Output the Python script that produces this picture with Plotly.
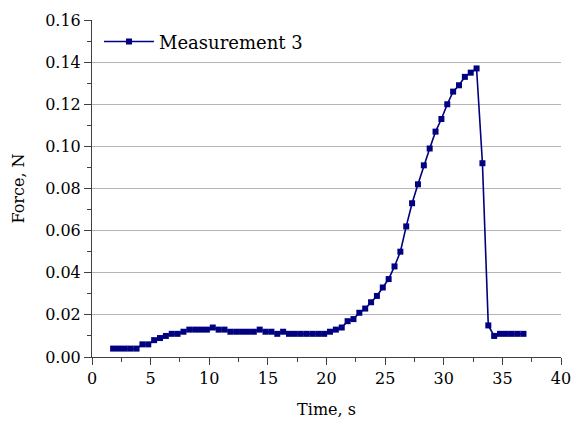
import plotly.graph_objects as go

time_s = [1.8, 2.3, 2.8, 3.3, 3.8, 4.3, 4.8, 5.3, 5.8, 6.3, 6.8, 7.3, 7.8, 8.3, 8.8, 9.3, 9.8,
          10.3, 10.8, 11.3, 11.8, 12.3, 12.8, 13.3, 13.8, 14.3, 14.8, 15.3, 15.8, 16.3, 16.8,
          17.3, 17.8, 18.3, 18.8, 19.3, 19.8, 20.3, 20.8, 21.3, 21.8, 22.3, 22.8, 23.3, 23.8,
          24.3, 24.8, 25.3, 25.8, 26.3, 26.8, 27.3, 27.8, 28.3, 28.8, 29.3, 29.8, 30.3, 30.8,
          31.3, 31.8, 32.3, 32.8, 33.3, 33.8, 34.3, 34.8, 35.3, 35.8, 36.3, 36.8]
force_n = [0.004, 0.004, 0.004, 0.004, 0.004, 0.006, 0.006, 0.008, 0.009, 0.010, 0.011, 0.011,
           0.012, 0.013, 0.013, 0.013, 0.013, 0.014, 0.013, 0.013, 0.012, 0.012, 0.012, 0.012,
           0.012, 0.013, 0.012, 0.012, 0.011, 0.012, 0.011, 0.011, 0.011, 0.011, 0.011, 0.011,
           0.011, 0.012, 0.013, 0.014, 0.017, 0.018, 0.021, 0.023, 0.026, 0.029, 0.033, 0.037,
           0.043, 0.050, 0.062, 0.073, 0.082, 0.091, 0.099, 0.107, 0.113, 0.120, 0.126, 0.129,
           0.133, 0.135, 0.137, 0.092, 0.015, 0.010, 0.011, 0.011, 0.011, 0.011, 0.011]

series_name = "Measurement 3"
x_title = "Time, s"
y_title = "Force, N"

FONT = "DejaVu Serif"
NAVY = "#000080"

fig = go.Figure()
fig.add_trace(go.Scatter(
    x=time_s, y=force_n, mode="lines+markers", name=series_name,
    line=dict(color=NAVY, width=1.6),
    marker=dict(symbol="square", size=6, color=NAVY),
))

fig.update_layout(
    width=574, height=421,
    margin=dict(l=92, r=13, t=20, b=64, autoexpand=False),
    paper_bgcolor="white", plot_bgcolor="white",
    font=dict(family=FONT, size=16, color="#000000"),
    showlegend=True,
    legend=dict(x=0.015, y=0.99, xanchor="left", yanchor="top",
                bgcolor="rgba(0,0,0,0)", font=dict(family=FONT, size=18),
                itemwidth=50, tracegroupgap=0),
    xaxis=dict(
        range=[0, 40], dtick=5, tick0=0, automargin=False,
        showline=True, linecolor="#404040", linewidth=1,
        showgrid=False, zeroline=False,
        ticks="outside", ticklen=7, tickcolor="#404040",
        minor=dict(dtick=2.5, ticks="outside", ticklen=4, tickcolor="#404040", showgrid=False),
        title=dict(text=x_title, standoff=16, font=dict(family=FONT, size=16)),
        tickfont=dict(family=FONT, size=16),
    ),
    yaxis=dict(
        range=[0, 0.16], dtick=0.02, tick0=0, tickformat=".2f", automargin=False,
        showline=True, linecolor="#404040", linewidth=1,
        showgrid=True, gridcolor="#b4b4b4", gridwidth=1, zeroline=False,
        ticks="outside", ticklen=7, tickcolor="#404040",
        minor=dict(dtick=0.01, ticks="outside", ticklen=4, tickcolor="#404040", showgrid=False),
        title=dict(text=y_title, standoff=16, font=dict(family=FONT, size=16)),
        tickfont=dict(family=FONT, size=16),
    ),
)

fig.write_html("out.html")
